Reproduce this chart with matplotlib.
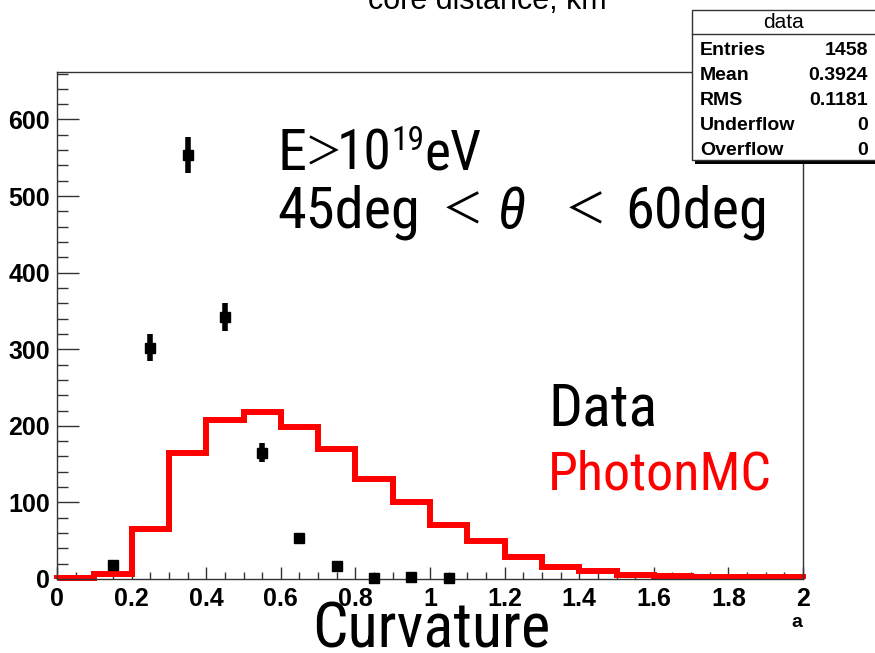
import numpy as np
import matplotlib
matplotlib.use("Agg")
from matplotlib import pyplot as plt
from matplotlib import font_manager
from matplotlib.patches import Rectangle
from matplotlib.lines import Line2D
from matplotlib.ticker import MultipleLocator

# curvature histogram: data points vs photon MC (normalised)
curv_edges = np.linspace(0.0, 2.0, 21)
mc_counts = [1, 6, 65, 164, 207, 218, 198, 170, 131, 100,
             70, 49, 29, 16, 10, 5, 4, 3, 3, 2]

data_x = [0.15, 0.25, 0.35, 0.45, 0.55, 0.65, 0.75, 0.85, 0.95, 1.05]
data_n = [18, 302, 553, 342, 165, 53, 17, 1, 3, 1]

stat_names = ["Entries", "Mean", "RMS", "Underflow", "Overflow"]
stat_values = ["1458", "0.3924", "0.1181", "0", "0"]

installed = {f.name for f in font_manager.fontManager.ttflist}
if "Roboto Condensed" in installed:
    big_font = ["Roboto Condensed", "Noto Sans CJK JP", "DejaVu Sans"]
    k = 1.0
else:
    big_font = ["Noto Sans CJK JP", "DejaVu Sans"]
    k = 0.87
cjk_font = ["Noto Sans CJK JP", "DejaVu Sans"]
root_font = ["Liberation Sans", "DejaVu Sans"]

W, H = 875, 653


def fx(px):
    return px / W


def fy(py):
    return 1 - py / H


fig = plt.figure(figsize=(W / 100, H / 100), dpi=100)
fig.patch.set_facecolor("white")

ax = fig.add_axes([fx(57), fy(579), fx(803 - 57), (579 - 72) / H])
ax.set_xlim(0, 2)
ax.set_ylim(0, 662)

ax.stairs(mc_counts, curv_edges, color="red", linewidth=4.3, clip_on=False, zorder=2)
ax.errorbar(data_x, data_n, yerr=np.sqrt(data_n), fmt="s", color="black",
            ms=7, elinewidth=4, capsize=0, clip_on=False, zorder=3)

# ROOT-like frame and ticks
for s in ax.spines.values():
    s.set_color("#333333")
    s.set_linewidth(1.0)
ax.xaxis.set_major_locator(MultipleLocator(0.2))
ax.xaxis.set_minor_locator(MultipleLocator(0.05))
ax.yaxis.set_major_locator(MultipleLocator(100))
ax.yaxis.set_minor_locator(MultipleLocator(20))
ax.tick_params(axis="x", which="major", direction="in", length=9, width=1, pad=6, colors="#333333")
ax.tick_params(axis="x", which="minor", direction="in", length=5, width=1, colors="#333333")
ax.tick_params(axis="y", which="major", direction="in", length=16, width=1, pad=5, colors="#333333")
ax.tick_params(axis="y", which="minor", direction="in", length=8, width=1, colors="#333333")
ax.set_xticks([0, 0.2, 0.4, 0.6, 0.8, 1.0, 1.2, 1.4, 1.6, 1.8, 2.0],
              ["0", "0.2", "0.4", "0.6", "0.8", "1", "1.2", "1.4", "1.6", "1.8", "2"])
for lab in ax.get_xticklabels() + ax.get_yticklabels():
    lab.set_fontfamily(root_font)
    lab.set_fontweight("bold")
    lab.set_fontsize(18)
    lab.set_color("black")

fig.text(fx(797), fy(627), "a", family=root_font, weight="bold", fontsize=14,
         ha="center", va="baseline")

# title of the pad above, cut by the edge
fig.text(fx(487), fy(9), "core distance, km", family=root_font, fontsize=22,
         ha="center", va="baseline")


def after(prev, s, base_y, size, dx=0, family=big_font, **kw):
    # put s right after the previous text, on the baseline base_y (pixels from top)
    return ax.annotate(s, xy=(1, fy(base_y)), xycoords=(prev, "figure fraction"),
                       xytext=(dx, 0), textcoords="offset pixels", family=family,
                       fontsize=size, ha="left", va="baseline", annotation_clip=False, **kw)


# cut annotations
big = 42 * k
t = ax.text(fx(277), fy(170), "E", transform=fig.transFigure, family=big_font,
            fontsize=big, ha="left", va="baseline")
t = after(t, "＞", 165, 27 * k, dx=-1, family=cjk_font)
t = after(t, "10", 170, 40 * k, dx=-6)
t = after(t, "19", 150, 24 * k, dx=0)
after(t, "eV", 170, 40 * k, dx=0)

fig.text(fx(277), fy(228), "45deg", family=big_font, fontsize=big, ha="left", va="baseline")
fig.text(fx(462), fy(224), "＜", family=cjk_font, fontsize=30 * k, ha="center", va="baseline")
fig.text(fx(512), fy(228), "θ", family=big_font, style="italic", fontsize=big,
         ha="center", va="baseline")
fig.text(fx(585), fy(224), "＜", family=cjk_font, fontsize=30 * k, ha="center", va="baseline")
fig.text(fx(625), fy(228), "60deg", family=big_font, fontsize=big, ha="left", va="baseline")

fig.text(fx(548), fy(425), "Data", family=big_font, fontsize=43 * k, color="black",
         ha="left", va="baseline")
fig.text(fx(548), fy(489), "PhotonMC", family=big_font, fontsize=39 * k, color="red",
         ha="left", va="baseline")
fig.text(fx(431), fy(648), "Curvature", family=big_font, fontsize=45 * k,
         ha="center", va="baseline")

# statistics box
box_l, box_t, box_b, box_r = 692, 10, 160, 880
fig.add_artist(Rectangle((fx(box_l + 3), fy(box_b + 4)), fx(box_r - box_l), (box_b - box_t) / H,
                         transform=fig.transFigure, facecolor="black", edgecolor="none", zorder=5))
fig.add_artist(Rectangle((fx(box_l), fy(box_b)), fx(box_r - box_l), (box_b - box_t) / H,
                         transform=fig.transFigure, facecolor="white", edgecolor="#333333",
                         linewidth=1.0, zorder=6))
fig.add_artist(Line2D([fx(box_l), fx(box_r)], [fy(34), fy(34)], transform=fig.transFigure,
                      color="#333333", linewidth=1.0, zorder=7))
fig.text(fx(784), fy(28), "data", family=root_font, fontsize=15, ha="center",
         va="baseline", zorder=8)
for i, (name, val) in enumerate(zip(stat_names, stat_values)):
    yb = 55 + i * 25
    fig.text(fx(700), fy(yb), name, family=root_font, weight="bold", fontsize=14,
             ha="left", va="baseline", zorder=8)
    fig.text(fx(868), fy(yb), val, family=root_font, weight="bold", fontsize=14,
             ha="right", va="baseline", zorder=8)

fig.savefig("out.png", dpi=100)
